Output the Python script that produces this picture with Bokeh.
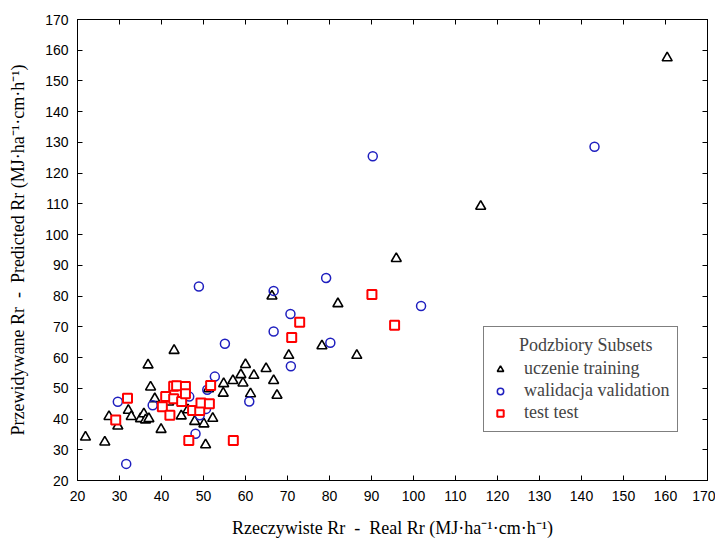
from bokeh.plotting import figure
from bokeh.models import LinearAxis, SingleIntervalTicker, Legend, LegendItem, Range1d
from bokeh.embed import file_html
from bokeh.resources import INLINE

# uczenie training
train_x = [21.9, 26.5, 27.5, 29.6, 32.1, 32.8, 35.0, 35.8, 36.2, 37.0, 36.8, 37.4, 38.4, 39.9,
           43.0, 41.7, 44.7, 46.3, 47.9, 50.1, 50.5, 52.2, 54.7, 54.8, 57.0, 58.9, 59.4, 60.0,
           61.2, 62.0, 64.9, 66.3, 66.7, 67.5, 70.3, 78.2, 82.0, 86.5, 95.9, 116.0, 160.4, 51.2]
train_y = [34.1, 32.5, 40.8, 37.7, 42.8, 40.8, 40.1, 41.7, 39.7, 40.1, 57.6, 50.4, 46.6, 36.6,
           62.3, 45.5, 41.0, 43.0, 39.2, 38.4, 31.6, 40.2, 48.4, 51.5, 52.5, 54.4, 51.7, 57.7,
           48.2, 54.2, 56.4, 80.0, 52.5, 47.7, 60.7, 63.8, 77.5, 60.7, 92.2, 109.2, 157.5, 49.8]

# walidacja validation
valid_x = [29.6, 31.6, 37.9, 46.6, 48.1, 49.1, 50.6, 50.9, 52.7, 55.1, 60.9, 48.9, 66.7, 66.7,
           70.7, 70.8, 79.2, 80.2, 90.3, 101.8, 143.1]
valid_y = [45.6, 25.4, 44.5, 47.3, 35.2, 41.2, 43.3, 49.5, 53.8, 64.5, 45.7, 83.1, 81.7, 68.5,
           74.2, 57.2, 85.9, 64.8, 125.5, 76.8, 128.6]

# test test
test_x = [29.1, 31.9, 40.2, 41.0, 42.0, 42.9, 42.9, 43.6, 44.8, 45.7, 45.7, 46.5, 47.4, 49.1,
          49.4, 51.4, 51.7, 57.1, 71.0, 72.9, 90.1, 95.5]
test_y = [39.7, 46.8, 44.0, 47.3, 41.2, 46.6, 50.7, 50.8, 45.7, 50.6, 48.2, 33.0, 42.8, 42.8,
          45.2, 45.0, 50.9, 33.0, 66.5, 71.5, 80.5, 70.5]

series_labels = ["uczenie training", "walidacja validation", "test test"]
legend_title = "Podzbiory Subsets"
NB = "\u00a0"
x_title = "Rzeczywiste Rr" + NB * 2 + "-" + NB * 2 + "Real Rr (MJ\u00b7ha\u207b\u00b9\u00b7cm\u00b7h\u207b\u00b9)"
y_title = "Przewidywane Rr" + NB * 2 + "-" + NB * 2 + "Predicted Rr (MJ\u00b7ha\u207b\u00b9\u00b7cm\u00b7h\u207b\u00b9)"

SERIF = "Liberation Serif"
SANS = "Liberation Sans"

p = figure(frame_width=630, frame_height=461, output_backend="svg", toolbar_location=None,
           x_range=Range1d(20, 170), y_range=Range1d(20, 170),
           min_border_left=77, min_border_right=8, min_border_top=19, min_border_bottom=56,
           x_axis_label=x_title, y_axis_label=y_title)
p.background_fill_color = "white"
p.border_fill_color = "white"
p.outline_line_color = "black"
p.outline_line_width = 1
p.xgrid.visible = False
p.ygrid.visible = False

for ax in (p.xaxis[0], p.yaxis[0]):
    ax.ticker = SingleIntervalTicker(interval=10, num_minor_ticks=0)
    ax.major_tick_in = 5
    ax.major_tick_out = 0
    ax.minor_tick_line_color = None
    ax.axis_line_color = "black"
    ax.major_tick_line_color = "black"
    ax.major_label_text_font = SANS
    ax.major_label_text_font_size = "14px"
    ax.major_label_text_color = "black"
    ax.axis_label_text_font = SERIF
    ax.axis_label_text_font_size = "18px"
    ax.axis_label_text_font_style = "normal"
    ax.axis_label_text_color = "black"

p.xaxis.major_label_standoff = 10
p.xaxis.axis_label_standoff = 14
p.yaxis.major_label_standoff = 9
p.yaxis.axis_label_standoff = 14

for loc in ("above", "right"):
    ax = LinearAxis(ticker=SingleIntervalTicker(interval=10, num_minor_ticks=0),
                    major_tick_in=5, major_tick_out=0, major_label_text_font_size="0px",
                    major_label_standoff=0, minor_tick_line_color=None,
                    axis_line_color="black", major_tick_line_color="black")
    p.add_layout(ax, loc)

r1 = p.scatter(train_x, train_y, marker="triangle", size=10, line_color="black",
               line_width=1.6, fill_color="white")
r2 = p.scatter(valid_x, valid_y, marker="circle", size=9, line_color="#1f1fbf",
               line_width=1.5, fill_color="white", fill_alpha=0.0)
r3 = p.scatter(test_x, test_y, marker="square", size=9, line_color="#ff0000",
               line_width=2, fill_color="white")

pad = NB * 6
legend = Legend(items=[LegendItem(label=series_labels[0], renderers=[r1]),
                       LegendItem(label=series_labels[1], renderers=[r2]),
                       LegendItem(label=series_labels[2], renderers=[r3])],
                location=(406, 48), title=pad + legend_title)
legend.title_text_font = SERIF
legend.title_text_font_size = "18px"
legend.title_text_font_style = "normal"
legend.title_standoff = 2
legend.label_text_font = SERIF
legend.label_text_font_size = "18px"
legend.glyph_height = 20
legend.glyph_width = 16
legend.spacing = 1
legend.padding = 8
legend.margin = 0
legend.label_standoff = 16
legend.border_line_color = "black"
legend.border_line_width = 1.5
legend.background_fill_color = "white"
legend.background_fill_alpha = 1
p.add_layout(legend)

open("out.html", "w").write(file_html(p, INLINE))
